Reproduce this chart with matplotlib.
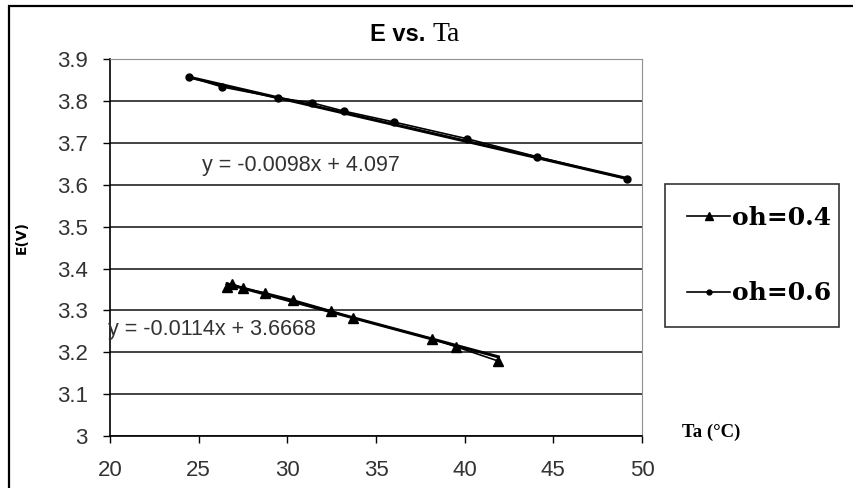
import matplotlib.pyplot as plt
from matplotlib.patches import Rectangle
import numpy as np

# data
ta_04 = [26.6, 26.9, 27.5, 28.75, 30.33, 32.47, 33.71, 38.17, 39.53, 41.9]
e_04 = [3.355, 3.363, 3.353, 3.342, 3.325, 3.299, 3.282, 3.232, 3.213, 3.179]
ta_06 = [24.46, 26.32, 29.48, 31.40, 33.21, 36.03, 40.15, 44.10, 49.18]
e_06 = [3.858, 3.834, 3.808, 3.796, 3.776, 3.750, 3.710, 3.667, 3.614]

# trendline coefficients shown on the chart
fit_04 = (-0.0114, 3.6668)
fit_06 = (-0.0098, 4.097)
eq_04 = 'y = -0.0114x + 3.6668'
eq_06 = 'y = -0.0098x + 4.097'

labels = ['oh=0.4', 'oh=0.6']
xticks = [20, 25, 30, 35, 40, 45, 50]
yticks = [3.0, 3.1, 3.2, 3.3, 3.4, 3.5, 3.6, 3.7, 3.8, 3.9]
ytick_labels = ['3', '3.1', '3.2', '3.3', '3.4', '3.5', '3.6', '3.7', '3.8', '3.9']

sans = 'Liberation Sans'
serif = 'Liberation Serif'

fig = plt.figure(figsize=(8.54, 4.88), dpi=100)
ax = fig.add_axes([110/854, 1-436/488, 532/854, 376.7/488])

# outer chart border
fig.patches.append(Rectangle((9/854, -0.05), 1.0, 1-6/488+0.05, transform=fig.transFigure,
                             fill=False, edgecolor='black', linewidth=1.6))

# trendlines
for xs, (m, b) in [(ta_04, fit_04), (ta_06, fit_06)]:
    xx = np.array([min(xs), max(xs)])
    ax.plot(xx, m*xx + b, color='black', lw=2.2, zorder=3)

ax.plot(ta_04, e_04, color='black', lw=1.2, marker='^', ms=7.5, label=labels[0], zorder=4)
ax.plot(ta_06, e_06, color='black', lw=1.2, marker='o', ms=5, label=labels[1], zorder=4)

ax.set_xlim(20, 50)
ax.set_ylim(3.0, 3.9)
ax.set_xticks(xticks)
ax.set_yticks(yticks)
ax.set_yticklabels(ytick_labels)
ax.tick_params(axis='both', direction='out', length=5, width=1, color='black',
               labelsize=16, labelcolor='#333333')
for lab in ax.get_xticklabels() + ax.get_yticklabels():
    lab.set_family(sans)
ax.tick_params(axis='y', pad=11)
ax.tick_params(axis='x', pad=12)

ax.yaxis.grid(True, color='#222222', lw=1.2)
ax.set_axisbelow(True)
ax.spines['left'].set_color('black')
ax.spines['bottom'].set_color('black')
ax.spines['left'].set_linewidth(1.2)
ax.spines['bottom'].set_linewidth(1.2)
ax.spines['top'].set_color('#909090')
ax.spines['right'].set_color('#909090')

ax.text(0.172, 0.7194, eq_06, transform=ax.transAxes, fontsize=15.5, family=sans,
        color='#333333', va='center', ha='left')
ax.text(-0.004, 0.2814, eq_04, transform=ax.transAxes, fontsize=15.5, family=sans,
        color='#333333', va='center', ha='left')

# title: sans part + serif part
fig.text(425/854, 1-41/488, 'E vs.', fontsize=17, family=sans, fontweight='bold',
         color='black', ha='right', va='baseline')
fig.text(433/854, 1-41/488, 'Ta', fontsize=20, family=serif, color='black',
         ha='left', va='baseline')

fig.text(22/854, 1-238/488, 'E(V)', rotation=90, fontsize=10, fontweight='bold',
         ha='center', va='center')
fig.text(682/854, 1-437/488, 'Ta (°C)', fontsize=13.5, fontweight='bold',
         family=serif, ha='left', va='baseline')

leg = fig.legend(loc='center', bbox_to_anchor=(665/854, 1-329/488, 174/854, 147/488),
                 mode='expand', borderaxespad=0, frameon=True, fancybox=False,
                 edgecolor='black',
                 prop={'family': 'DejaVu Serif', 'weight': 'bold', 'size': 18},
                 handlelength=1.75, handletextpad=0.05, labelspacing=2.06, borderpad=0.87,
                 markerscale=0.7)
leg.get_frame().set_linewidth(1.2)

fig.savefig('out.png', dpi=100)
